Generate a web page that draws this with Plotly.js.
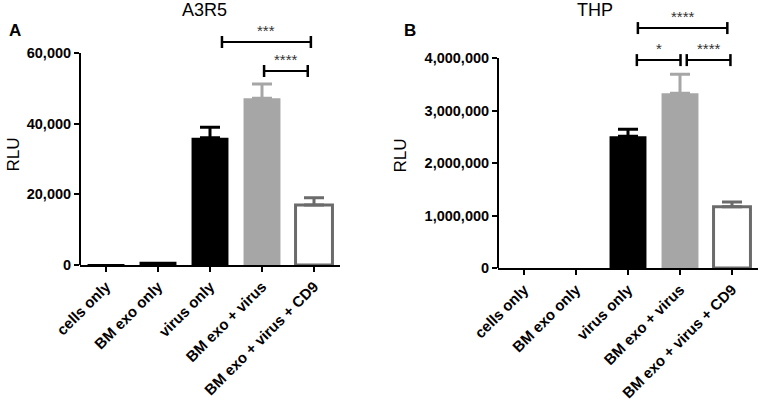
<!DOCTYPE html>
<html>
<head>
<meta charset="utf-8">
<script src="https://cdn.plot.ly/plotly-3.0.1.min.js"></script>
<style>
	html, body {margin: 0; padding: 0; background: white;}
	#chart {width: 761px; height: 408px;}
</style>
</head>
<body>
<div id="chart"></div>
<script>
// 두 패널 막대 그래프 (A3R5 / THP), 위쪽 오차막대만
const categories = ["cells only", "BM exo only", "virus only", "BM exo + virus", "BM exo + virus + CD9"];

const a3r5Mean = [300, 900, 36000, 47200, 17000];
const a3r5Err = [0, 0, 3000, 4000, 2000];

const thpMean = [1000, 2000, 2510000, 3330000, 1165000];
const thpErr = [0, 0, 135000, 362000, 92000];

const a3r5Ticks = [0, 20000, 40000, 60000];
const thpTicks = [0, 1000000, 2000000, 3000000, 4000000];

// 유의성 표시: [시작 x, 끝 x, 높이, 별표]
const a3r5Sig = [
	[2.23, 3.94, 63100, "***"],
	[3.04, 3.88, 54900, "****"]
];
const thpSig = [
	[2.19, 3.91, 4570000, "****"],
	[2.17, 3.01, 3960000, "*"],
	[3.13, 3.97, 3960000, "****"]
];

const fills = ["#000000", "#000000", "#000000", "#a6a6a6", "#ffffff"];
const errColors = ["#000000", "#000000", "#000000", "#a6a6a6", "#6b6b6b"];
const outlineWidth = [0, 0, 0, 0, 3];

const FONT = "Liberation Sans, Arial, sans-serif";

function makeTraces(means, errs, xa, ya) {
	return means.map((v, i) => ({
		type: "bar",
		x: [categories[i]],
		y: [v],
		xaxis: xa,
		yaxis: ya,
		width: 0.71,
		marker: {color: fills[i], line: {color: "#6b6b6b", width: outlineWidth[i]}},
		error_y: {
			type: "data", symmetric: false, array: [errs[i]], arrayminus: [0],
			visible: errs[i] > 0, color: errColors[i], thickness: 3, width: 10
		},
		showlegend: false,
		hoverinfo: "skip"
	}));
}

function xAxisDef(domain) {
	return {
		domain: domain,
		range: [-0.5, 4.5],
		type: "category",
		categoryorder: "array",
		categoryarray: categories,
		showline: true, linewidth: 2, linecolor: "black",
		ticks: "outside", ticklen: 5, tickwidth: 2, tickcolor: "black",
		tickangle: -45,
		tickfont: {family: FONT, size: 15, color: "black", weight: "bold"},
		showgrid: false, zeroline: false, fixedrange: true
	};
}

function yAxisDef(domain, range, ticks, anchor) {
	return {
		domain: domain,
		range: range,
		anchor: anchor,
		tickvals: ticks,
		tickformat: ",d",
		showline: false,
		ticks: "outside", ticklen: 5, tickwidth: 2, tickcolor: "black",
		tickfont: {family: FONT, size: 14.5, color: "black", weight: "bold"},
		showgrid: false, zeroline: false, fixedrange: true
	};
}

function sigShapes(sig, xr, yr) {
	const out = [];
	sig.forEach(s => {
		out.push({type: "line", xref: xr, yref: yr, x0: s[0], x1: s[1], y0: s[2], y1: s[2], line: {color: "black", width: 2}});
		[s[0], s[1]].forEach(xv => {
			out.push({type: "line", xref: xr, yref: yr, ysizemode: "pixel", yanchor: s[2],
				x0: xv, x1: xv, y0: -6, y1: 6, line: {color: "black", width: 2.5}});
		});
	});
	return out;
}

function sigLabels(sig, xr, yr) {
	return sig.map(s => ({
		xref: xr, yref: yr, x: (s[0] + s[1]) / 2, y: s[2], yanchor: "bottom", yshift: 1,
		text: s[3], showarrow: false,
		font: {family: FONT, size: 15, color: "#333"}
	}));
}

const traces = makeTraces(a3r5Mean, a3r5Err, "x", "y").concat(makeTraces(thpMean, thpErr, "x2", "y2"));

const shapes = [
	// 세로축 선 (눈금 최대값까지만)
	{type: "line", xref: "x domain", yref: "y", x0: 0, x1: 0, y0: 0, y1: a3r5Ticks[a3r5Ticks.length - 1], line: {color: "black", width: 2}},
	{type: "line", xref: "x2 domain", yref: "y2", x0: 0, x1: 0, y0: 0, y1: thpTicks[thpTicks.length - 1], line: {color: "black", width: 2}}
].concat(sigShapes(a3r5Sig, "x", "y"), sigShapes(thpSig, "x2", "y2"));

const annotations = [
	{xref: "paper", yref: "paper", x: 204 / 761, y: 1 - 9.5 / 408, text: "A3R5", showarrow: false,
		xanchor: "center", yanchor: "middle", font: {family: FONT, size: 18, color: "black"}},
	{xref: "paper", yref: "paper", x: 594.5 / 761, y: 1 - 9.5 / 408, text: "THP", showarrow: false,
		xanchor: "center", yanchor: "middle", font: {family: FONT, size: 18, color: "black"}},
	{xref: "paper", yref: "paper", x: 14.5 / 761, y: 1 - 31 / 408, text: "<b>A</b>", showarrow: false,
		xanchor: "center", yanchor: "middle", font: {family: FONT, size: 17, color: "black"}},
	{xref: "paper", yref: "paper", x: 409.5 / 761, y: 1 - 31 / 408, text: "<b>B</b>", showarrow: false,
		xanchor: "center", yanchor: "middle", font: {family: FONT, size: 17, color: "black"}},
	{xref: "paper", yref: "paper", x: 12.5 / 761, y: 1 - 155 / 408, text: "RLU", textangle: -90, showarrow: false,
		xanchor: "center", yanchor: "middle", font: {family: FONT, size: 17, color: "black"}},
	{xref: "paper", yref: "paper", x: 399.5 / 761, y: 1 - 156 / 408, text: "RLU", textangle: -90, showarrow: false,
		xanchor: "center", yanchor: "middle", font: {family: FONT, size: 17, color: "black"}}
].concat(sigLabels(a3r5Sig, "x", "y"), sigLabels(thpSig, "x2", "y2"));

var layout = {
	width: 761,
	height: 408,
	margin: {l: 0, r: 0, t: 0, b: 0},
	paper_bgcolor: "white",
	plot_bgcolor: "white",
	barmode: "overlay",
	showlegend: false,
	font: {family: FONT, color: "black"},
	xaxis: xAxisDef([80 / 761, 340 / 761]),
	yaxis: yAxisDef([(408 - 265) / 408, (408 - 31.8) / 408], [0, 66000], a3r5Ticks, "x"),
	xaxis2: Object.assign(xAxisDef([498 / 761, 758 / 761]), {anchor: "y2"}),
	yaxis2: yAxisDef([(408 - 268) / 408, (408 - 16) / 408], [0, 4800000], thpTicks, "x2"),
	shapes: shapes,
	annotations: annotations
};
layout.xaxis.anchor = "y";

Plotly.newPlot("chart", traces, layout, {displayModeBar: false, staticPlot: true});
</script>
</body>
</html>
